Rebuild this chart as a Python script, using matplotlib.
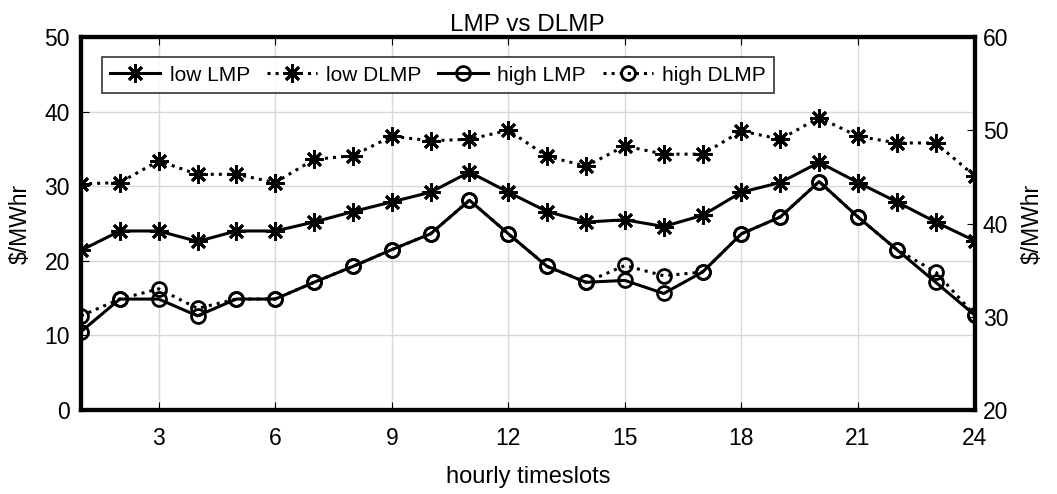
import matplotlib.pyplot as plt
import numpy as np

plt.rcParams['font.family'] = ['Liberation Sans', 'DejaVu Sans']

# data
hours = np.arange(1, 25)
low_lmp = [21.4, 24.0, 24.0, 22.6, 24.0, 24.0, 25.2, 26.6, 27.9, 29.2, 31.9, 29.2,
           26.6, 25.2, 25.5, 24.6, 26.1, 29.2, 30.5, 33.2, 30.5, 27.9, 25.2, 22.7]
low_dlmp = [30.3, 30.5, 33.4, 31.6, 31.6, 30.5, 33.6, 34.1, 36.7, 36.1, 36.3, 37.5,
            34.0, 32.7, 35.4, 34.3, 34.3, 37.4, 36.3, 39.2, 36.7, 35.8, 35.8, 31.4]
high_lmp = [28.4, 31.9, 31.9, 30.1, 31.9, 31.9, 33.7, 35.4, 37.2, 38.9, 42.5, 38.9,
            35.4, 33.7, 33.9, 32.5, 34.8, 38.9, 40.7, 44.5, 40.7, 37.2, 33.7, 30.2]
high_dlmp = [30.1, 31.9, 33.0, 30.9, 31.9, 31.9, 33.7, 35.4, 37.2, 38.9, 42.5, 38.9,
             35.4, 33.7, 35.5, 34.4, 34.8, 38.9, 40.7, 44.5, 40.7, 37.2, 34.8, 30.2]

fig, ax = plt.subplots(figsize=(10.57, 4.94), dpi=100)
fig.subplots_adjust(left=0.0766, right=0.922, top=0.925, bottom=0.170)
ax2 = ax.twinx()

star = (8, 2, 0)
kw = dict(color='black', linewidth=2.2)
h1, = ax.plot(hours, low_lmp, linestyle='-', marker=star, markersize=13,
              markeredgewidth=2, label='low LMP', **kw)
h2, = ax.plot(hours, low_dlmp, linestyle=':', marker=star, markersize=13,
              markeredgewidth=2, label='low DLMP', **kw)
h3, = ax2.plot(hours, high_lmp, linestyle='-', marker='o', markersize=10,
               markerfacecolor='none', markeredgewidth=2, label='high LMP', **kw)
h4, = ax2.plot(hours, high_dlmp, linestyle=':', marker='o', markersize=10,
               markerfacecolor='none', markeredgewidth=2, label='high DLMP', **kw)

ax.set_xlim(1, 24)
ax.set_ylim(0, 50)
ax2.set_ylim(20, 60)
ax.set_xticks([3, 6, 9, 12, 15, 18, 21, 24])
ax.set_yticks(np.arange(0, 51, 10))
ax2.set_yticks(np.arange(20, 61, 10))

ax.grid(True, color='#d8d8d8', linewidth=1)
ax.tick_params(axis='x', direction='in', labelsize=16.5, length=6, top=True, pad=12)
ax.tick_params(axis='y', direction='in', labelsize=16.5, length=6, pad=8)
ax2.tick_params(direction='in', labelsize=16.5, length=6, pad=6)
for a in (ax, ax2):
    for s in a.spines.values():
        s.set_linewidth(3)

ax.set_xlabel('hourly timeslots', fontsize=17, labelpad=12)
ax.set_ylabel('$/MWhr', fontsize=16.5, labelpad=9)
ax2.set_ylabel('$/MWhr', fontsize=16.5, labelpad=9)
ax.set_title('LMP vs DLMP', fontsize=17.5, pad=4)

leg = ax.legend(handles=[h1, h2, h3, h4], loc='upper left', ncol=4,
                bbox_to_anchor=(0.0235, 0.946), borderaxespad=0,
                fontsize=15, frameon=True, fancybox=False, edgecolor='black',
                handlelength=2.4, columnspacing=0.8, handletextpad=0.45,
                borderpad=0.4)
leg.get_frame().set_linewidth(1.2)
leg.set_zorder(5)

plt.savefig('out.png', dpi=100)
